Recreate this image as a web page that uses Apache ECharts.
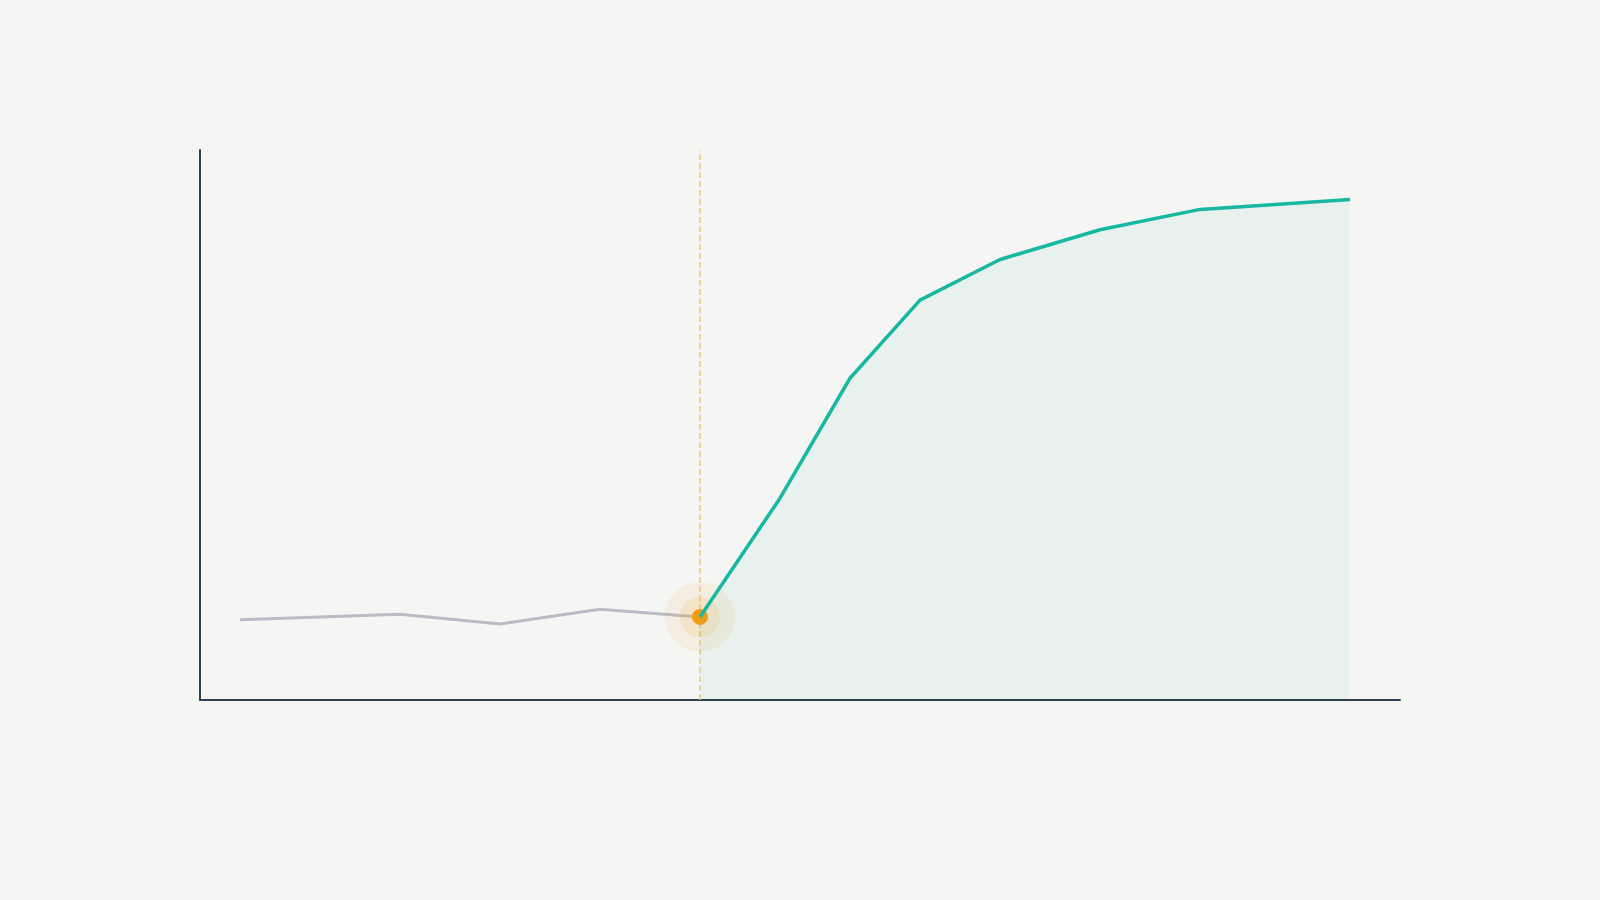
<!DOCTYPE html>
<html>
<head>
<meta charset="utf-8">
<style>
  html, body { margin: 0; padding: 0; background: #f5f5f3; }
  #chart { width: 1600px; height: 900px; }
</style>
<script src="https://cdn.jsdelivr.net/npm/echarts@6/dist/echarts.min.js"></script>
</head>
<body>
<div id="chart"></div>
<script>
// before the turning point (grey) and after it (teal)
var beforeX = [-4.6, -3, -2, -1, 0];
var beforeY = [14.6, 15.6, 13.8, 16.5, 15.1];
var afterX = [0, 0.8, 1.5, 2.2, 3, 4, 5, 6.5];
var afterY = [15.1, 36.7, 58.5, 72.7, 80.1, 85.5, 89.2, 91.0];
var pivot = [0, 15.1];

function pairs(xs, ys) {
  return xs.map(function (x, i) { return [x, ys[i]]; });
}

var dom = document.getElementById('chart');
var myChart = echarts.init(dom);
var option = {
  backgroundColor: '#f5f5f3',
  animation: false,
  grid: { left: 200, right: 200, top: 150, bottom: 200 },
  xAxis: {
    type: 'value',
    min: -5,
    max: 7,
    axisLine: { show: true, onZero: false, lineStyle: { color: '#2d3e50', width: 2 } },
    axisTick: { show: false },
    axisLabel: { show: false },
    splitLine: { show: false }
  },
  yAxis: {
    type: 'value',
    min: 0,
    max: 100,
    axisLine: { show: true, onZero: false, lineStyle: { color: '#2d3e50', width: 2 } },
    axisTick: { show: false },
    axisLabel: { show: false },
    splitLine: { show: false }
  },
  series: [
    {
      type: 'line',
      data: pairs(beforeX, beforeY),
      symbol: 'none',
      z: 1,
      lineStyle: { color: '#b9bcc5', width: 3 },
      markLine: {
        silent: true,
        symbol: 'none',
        z: 1,
        label: { show: false },
        lineStyle: { color: '#f3c77c', type: 'dashed', width: 1.5 },
        data: [{ xAxis: pivot[0] }]
      }
    },
    {
      type: 'scatter',
      data: [pivot],
      symbolSize: 70,
      itemStyle: { color: 'rgba(243,156,18,0.08)', opacity: 1 },
      z: 2
    },
    {
      type: 'scatter',
      data: [pivot],
      symbolSize: 40,
      itemStyle: { color: 'rgba(243,156,18,0.12)', opacity: 1 },
      z: 2
    },
    {
      type: 'scatter',
      data: [pivot],
      symbolSize: 16,
      itemStyle: { color: '#f39c12', opacity: 1 },
      z: 2
    },
    {
      type: 'line',
      data: pairs(afterX, afterY),
      symbol: 'none',
      z: 3,
      lineStyle: { color: '#17b8a0', width: 3.5 },
      areaStyle: { color: 'rgba(23,184,160,0.07)' }
    }
  ]
};
myChart.setOption(option, true);
window.addEventListener('resize', function () {
  myChart.resize();
});
</script>
</body>
</html>
